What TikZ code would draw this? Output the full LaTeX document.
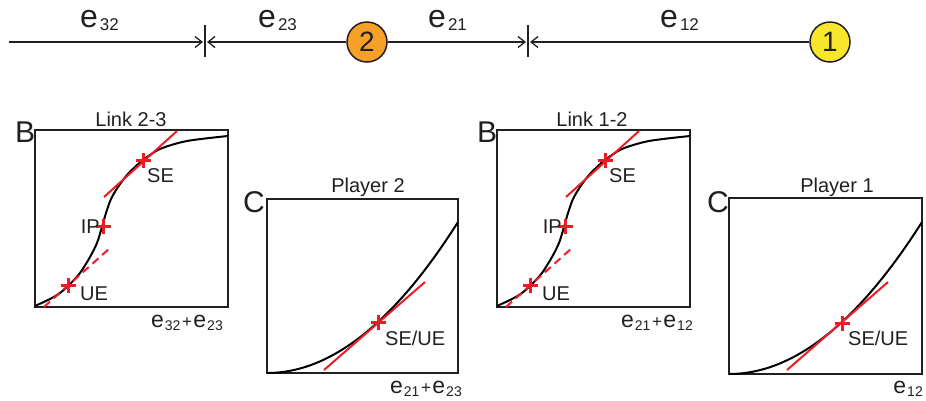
\documentclass[tikz,border=0pt]{standalone}
\usepackage{fontspec}
\setmainfont{Liberation Sans}
\usetikzlibrary{arrows.meta}
\definecolor{ink}{HTML}{231F20}
\definecolor{redc}{HTML}{EC1C24}
\definecolor{orangec}{HTML}{F5A128}
\definecolor{yellowc}{HTML}{F7E62B}
\newcommand\topE[1]{{\fontsize{32}{32}\selectfont e}\kern2pt\raisebox{-3pt}{\fontsize{17}{17}\selectfont #1}}
\newcommand\axE[1]{{\fontsize{23}{23}\selectfont e}\kern1pt\raisebox{-3pt}{\fontsize{14}{14}\selectfont #1}}
\newcommand\axPlus{\kern1.5pt{\fontsize{17}{17}\selectfont +}\kern1.5pt}
\tikzset{
  axisline/.style={draw=ink, line width=1.5pt},
  tip/.style={-{Straight Barb[length=7pt,width=11pt,line width=1.3pt]}},
  tick/.style={draw=ink, line width=1.3pt},
  player/.style={circle, draw=ink, line width=1.5pt, minimum size=40pt, inner sep=0pt,
    font=\fontsize{28}{28}\selectfont, text=ink},
  toplbl/.style={anchor=base west, inner sep=0pt, text=ink},
  frame/.style={draw=ink, line width=1.2pt},
  curve/.style={draw=black, line width=2pt},
  tang/.style={draw=redc, line width=2pt},
  dtang/.style={draw=redc, line width=2pt, dash pattern=on 8pt off 5pt},
  big/.style={inner sep=0pt, text=ink, font=\fontsize{30}{30}\selectfont},
  title/.style={anchor=base, inner sep=0pt, text=ink, font=\fontsize{20}{20}\selectfont},
  lbl/.style={inner sep=0pt, text=ink, font=\fontsize{20}{20}\selectfont},
  axlbl/.style={anchor=base east, inner sep=0pt, text=ink},
  rcross/.pic={\draw[redc, line width=3pt] (-7.5,0) -- (7.5,0) (0,-7.5) -- (0,7.5);}
}
\newcommand\sigcurve{plot[smooth, tension=0.5] coordinates {(35,306) (50,299) (60,293) (70,284) (80,273) (90,257) (97,243) (102,227) (106,213) (111,199) (118,187) (127,175) (135,167) (143,160) (160,149) (187,141) (228,136)}}
\begin{document}
\begin{tikzpicture}[x=1pt,y=-1pt]
\useasboundingbox (0,0) rectangle (926,400);
% ---------- top line ----------
\node[player, fill=orangec] (n2) at (367,42) {2};
\node[player, fill=yellowc] (n1) at (830,42) {1};
\coordinate (start) at (9,42);
\coordinate (d1) at (205,42);
\coordinate (d2) at (528,42);
\coordinate (d1a) at (203,42);
\coordinate (d1b) at (207,42);
\coordinate (d2a) at (526,42);
\coordinate (d2b) at (530,42);
\draw[axisline, tip] (start) -- (d1a);
\draw[axisline, tip] (n2) -- (d1b);
\draw[axisline, tip] (n2) -- (d2a);
\draw[axisline, tip] (n1) -- (d2b);
\draw[tick] ([yshift=-15pt]d1) -- ([yshift=17pt]d1);
\draw[tick] ([yshift=-15pt]d2) -- ([yshift=17pt]d2);
\node[toplbl] (l32) at (80,27) {\topE{32}};
\node[toplbl] (l23) at (258,27) {\topE{23}};
\node[toplbl] (l21) at (428,27) {\topE{21}};
\node[toplbl] (l12) at (660,27) {\topE{12}};
% ---------- panel B (Link 2-3) ----------
\draw[frame] (35,130) rectangle (228,307);
\draw[curve] \sigcurve;
\draw[tang] (104,197) -- (177,131);
\draw[dtang] (44,307) -- (110,248);
\pic at (68,285) {rcross};
\pic at (103,226) {rcross};
\pic at (143,160) {rcross};
\node[big, anchor=base west] (bB1) at (15,142) {B};
\node[title] (tB1) at (131,126) {Link 2-3};
\node[lbl, anchor=base west] (se1) at (147,182) {SE};
\node[lbl, anchor=base east] (ip1) at (100,233) {IP};
\node[lbl, anchor=base west] (ue1) at (80,300) {UE};
\node[axlbl] (xB1) at (223,327) {\axE{32}\axPlus\axE{23}};
% ---------- panel C (Player 2) ----------
\draw[frame] (267,199) rectangle (458,373);
\draw[curve] plot[domain=0:191, samples=60] ({267+\x},{373-151*(\x/191)^2});
\draw[tang] (324,370) -- (425,282);
\pic at (378,322) {rcross};
\node[big, anchor=base west] (cC1) at (243,212) {C};
\node[title] (tC1) at (368,192) {Player 2};
\node[lbl, anchor=base west] (seue1) at (385,345) {SE/UE};
\node[axlbl] (xC1) at (462,393) {\axE{21}\axPlus\axE{23}};
% ---------- panel B (Link 1-2) ----------
\begin{scope}[xshift=462pt]
\draw[frame] (35,130) rectangle (228,307);
\draw[curve] \sigcurve;
\draw[tang] (104,197) -- (177,131);
\draw[dtang] (44,307) -- (110,248);
\pic at (68,285) {rcross};
\pic at (103,226) {rcross};
\pic at (143,160) {rcross};
\node[big, anchor=base west] (bB2) at (15,142) {B};
\node[title] (tB2) at (130,126) {Link 1-2};
\node[lbl, anchor=base west] (se2) at (147,182) {SE};
\node[lbl, anchor=base east] (ip2) at (100,233) {IP};
\node[lbl, anchor=base west] (ue2) at (80,300) {UE};
\node[axlbl] (xB2) at (231,327) {\axE{21}\axPlus\axE{12}};
\end{scope}
% ---------- panel C (Player 1) ----------
\begin{scope}[xshift=462pt]
\draw[frame] (267,198) rectangle (460,374);
\draw[curve] plot[domain=0:193, samples=60] ({267+\x},{374-152*(\x/193)^2});
\draw[tang] (325,370) -- (426,282);
\pic at (380,323) {rcross};
\node[big, anchor=base west] (cC2) at (245,212) {C};
\node[title] (tC2) at (375,192) {Player 1};
\node[lbl, anchor=base west] (seue2) at (386,345) {SE/UE};
\node[axlbl] (xC2) at (461,393) {\axE{12}};
\end{scope}
\end{tikzpicture}
\end{document}
